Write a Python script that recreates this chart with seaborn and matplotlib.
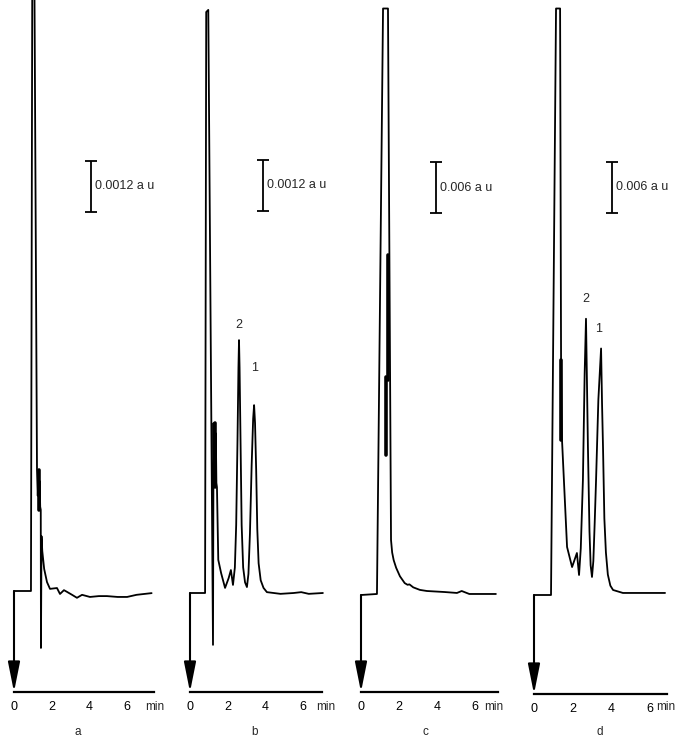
import matplotlib
matplotlib.use('Agg')
import matplotlib.pyplot as plt
import seaborn as sns

# Four chromatograms (a-d). Time in min, signal in milli a.u. (1.2 mAU = 0.0012 a u)
time_a = [0.0, 0.90, 0.97, 1.08, 1.22, 1.26, 1.30, 1.33, 1.36, 1.39, 1.42,
          1.43, 1.46, 1.50, 1.60, 1.75, 1.91, 2.28, 2.44, 2.65, 2.81, 3.08,
          3.34, 3.61, 4.03, 4.50, 4.93, 5.50, 6.00, 6.50, 7.30]
signal_a = [0.0, 0.0, 14.6, 14.6, 2.85, 2.24, 2.78, 2.07, 2.59, 1.98, 1.91,
            -1.34, 1.29, 0.94, 0.52, 0.21, 0.05, 0.07, -0.07, 0.02, -0.02, -0.09,
            -0.16, -0.09, -0.14, -0.12, -0.12, -0.14, -0.14, -0.09, -0.05]

time_b = [0.0, 0.80, 0.86, 0.97, 1.22, 1.25, 1.28, 1.31, 1.34, 1.37, 1.40,
          1.43, 1.50, 1.65, 1.86, 2.05, 2.17, 2.28, 2.38, 2.45, 2.52, 2.57,
          2.60, 2.63, 2.68, 2.74, 2.82, 2.92, 3.02, 3.10, 3.18, 3.27, 3.35,
          3.40, 3.45, 3.51, 3.57, 3.64, 3.75, 3.90, 4.08, 4.80, 5.50, 5.90,
          6.30, 7.05]
signal_b = [0.0, 0.0, 13.67, 13.72, -1.22, 4.00, 2.64, 3.88, 2.78, 3.76, 2.59,
            2.49, 0.78, 0.47, 0.12, 0.35, 0.54, 0.19, 0.60, 1.60, 3.60, 5.30,
            5.95, 5.30, 3.60, 1.60, 0.60, 0.25, 0.14, 0.45, 1.40, 3.00, 4.10,
            4.42, 4.00, 2.90, 1.50, 0.70, 0.30, 0.12, 0.02, -0.02, 0.0, 0.02,
            -0.02, 0.0]

time_c = [0.0, 0.84, 1.16, 1.42, 1.58, 1.64, 1.72, 1.85, 2.05, 2.30, 2.45,
          2.55, 2.75, 3.10, 3.47, 4.40, 5.05, 5.30, 5.70, 7.10]
signal_c = [0.0, 0.12, 69.0, 69.0, 6.47, 5.00, 4.10, 3.20, 2.20, 1.40, 1.20,
            1.25, 0.90, 0.60, 0.47, 0.35, 0.24, 0.47, 0.12, 0.12]

time_d = [0.0, 0.83, 0.88, 1.14, 1.35, 1.40, 1.45, 1.71, 1.97, 2.22, 2.33,
          2.42, 2.53, 2.62, 2.69, 2.74, 2.79, 2.87, 2.93, 3.00, 3.07, 3.14,
          3.21, 3.33, 3.47, 3.52, 3.57, 3.64, 3.72, 3.82, 3.95, 4.09, 4.60,
          6.78]
signal_d = [0.0, 0.0, 0.0, 69.0, 69.0, 27.6, 18.2, 5.65, 3.29, 4.94, 2.35,
            5.50, 13.5, 26.0, 32.5, 25.0, 17.4, 7.50, 3.50, 2.12, 4.00, 8.50,
            13.5, 23.0, 29.0, 22.5, 17.4, 9.00, 5.00, 2.40, 1.10, 0.59, 0.24,
            0.24]

# dense pen bursts just after the solvent front (time, start, end)
bursts = {
    'a': [(1.32, 2.85, 1.91)],
    'b': [(1.33, 4.00, 2.49)],
    'c': [(1.42, 40.0, 25.3), (1.32, 25.6, 16.5)],
    'd': [(1.42, 27.6, 18.2)],
}

# numbered peaks (label, time, signal)
peak_labels = {
    'b': [('2', 2.60, 6.30), ('1', 3.40, 5.30)],
    'd': [('2', 2.69, 34.8), ('1', 3.36, 31.3)],
}

# scale bars
bar_time = [4.08, 3.87, 3.95, 4.04]
bar_bottom = [8.92, 8.99, 44.9, 45.0]
bar_size = [1.2, 1.2, 6.0, 6.0]
bar_text = ['0.0012 a u', '0.0012 a u', '0.006 a u', '0.006 a u']

tick_times = [0, 2, 4, 6]
tick_labels = ['0', '2', '4', '6']

sns.set_style('white')
plt.rcParams['font.family'] = ['Liberation Sans', 'DejaVu Sans']

W, H = 680, 739
fig = plt.figure(figsize=(W / 100, H / 100), dpi=100)

# layout in pixels: x of t=0, px per min, baseline row, time axis row, axis end, "min" pos
layout = [
    dict(name='a', x0=14, ppm=18.85, base=591, axis=692, end=7.45, tmin=7.45),
    dict(name='b', x0=190, ppm=18.85, base=593, axis=692, end=7.0, tmin=7.2),
    dict(name='c', x0=361, ppm=19.0, base=595, axis=692, end=7.2, tmin=7.0),
    dict(name='d', x0=534, ppm=19.33, base=595, axis=694, end=6.9, tmin=6.8),
]
traces = [(time_a, signal_a), (time_b, signal_b), (time_c, signal_c), (time_d, signal_d)]
bar_px = 51

for i, p in enumerate(layout):
    k = bar_size[i] / bar_px  # mAU per pixel
    left = p['x0'] - 14
    right = min(p['x0'] + 152, W)
    ax = fig.add_axes([left / W, 0, (right - left) / W, 1])

    t, s = traces[i]
    sns.lineplot(x=t, y=s, sort=False, estimator=None, color='black',
                 linewidth=1.3, ax=ax)
    for bt, b0, b1 in bursts[p['name']]:
        sns.lineplot(x=[bt, bt], y=[b0, b1], sort=False, estimator=None,
                     color='black', linewidth=2.6, ax=ax)

    ax.set_xlim((left - p['x0']) / p['ppm'], (right - p['x0']) / p['ppm'])
    ax.set_ylim(-(H - p['base']) * k, p['base'] * k)

    axis_v = -(p['axis'] - p['base']) * k
    for sp in ['top', 'left', 'right']:
        ax.spines[sp].set_visible(False)
    ax.spines['bottom'].set_position(('data', axis_v))
    ax.spines['bottom'].set_bounds(0, p['end'])
    ax.spines['bottom'].set_linewidth(1.6)
    ax.spines['bottom'].set_color('black')
    ax.set_yticks([])
    ax.set_xticks(tick_times)
    ax.set_xticklabels(tick_labels)
    ax.tick_params(axis='x', direction='out', length=2.5, width=1.2,
                   pad=4, labelsize=9, colors='black')
    ax.set_xlabel('')
    ax.set_ylabel('')
    ax.patch.set_alpha(0)

    label_v = -(707 - p['base']) * k
    ax.text(p['tmin'], label_v, 'min', ha='center', va='center', fontsize=8.5)
    ax.text(3.4, -(732 - p['base']) * k, p['name'], ha='center', va='center',
            fontsize=8.5)

    # injection arrow
    ax.annotate('', xy=(0, axis_v), xytext=(0, 0),
                arrowprops=dict(arrowstyle='-|>,head_length=1.4,head_width=0.28',
                                mutation_scale=13, lw=1.5, color='black',
                                shrinkA=0, shrinkB=0))

    # scale bar
    mid = bar_bottom[i] + bar_size[i] / 2
    ax.errorbar([bar_time[i]], [mid], yerr=[bar_size[i] / 2], color='black',
                capsize=4, elinewidth=1.3, capthick=1.3, fmt='none')
    ax.text(bar_time[i] + 4 / p['ppm'], mid, bar_text[i], ha='left',
            va='center', fontsize=9)

    for lab, lt, lv in peak_labels.get(p['name'], []):
        ax.text(lt, lv, lab, ha='center', va='center', fontsize=9)

fig.savefig('out.png', dpi=100)
